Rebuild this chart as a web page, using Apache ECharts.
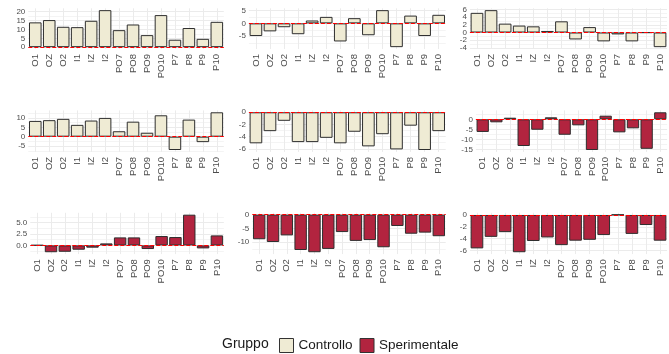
<!DOCTYPE html>
<html>
<head>
<meta charset="utf-8">
<script src="https://cdn.jsdelivr.net/npm/echarts@6/dist/echarts.min.js"></script>
<style>
  html, body { margin: 0; padding: 0; background: #ffffff; }
  #chart { width: 669px; height: 354px; }
</style>
</head>
<body>
<div id="chart"></div>
<script>
// Electrode sites shared by every panel
const categories = ['O1', 'OZ', 'O2', 'I1', 'IZ', 'I2', 'PO7', 'PO8', 'PO9', 'PO10', 'P7', 'P8', 'P9', 'P10'];

// Controllo group panels
const controllo1 = [14.0, 15.3, 11.5, 11.3, 14.9, 20.9, 9.6, 12.8, 6.8, 18.1, 4.2, 10.8, 4.7, 14.3];
const controllo2 = [-4.9, -3.1, -1.5, -4.2, 1.1, 2.5, -7.0, 2.0, -4.6, 5.1, -9.2, 3.0, -4.9, 3.3];
const controllo3 = [5.1, 5.8, 2.3, 1.8, 1.6, 0.4, 2.9, -1.8, 1.4, -2.3, -0.5, -2.3, -0.05, -3.8];
const controllo4 = [8.4, 8.8, 9.5, 6.3, 8.6, 10.0, 2.9, 8.0, 2.1, 11.4, -7.1, 9.1, -2.9, 13.0];
const controllo5 = [-5.1, -3.1, -1.4, -4.9, -4.9, -4.2, -5.1, -3.2, -5.6, -3.6, -6.1, -2.2, -6.2, -3.1];

// Sperimentale group panels
const sperimentale1 = [-6.3, -1.5, 0.8, -13.3, -5.2, 1.0, -7.7, -3.0, -15.3, 1.8, -6.5, -4.5, -14.7, 3.5];
const sperimentale2 = [0.05, -1.5, -1.4, -0.95, -0.5, 0.44, 1.76, 1.76, -0.8, 2.06, 1.84, 6.76, -0.66, 2.2];
const sperimentale3 = [-8.9, -9.9, -7.5, -12.8, -13.6, -12.4, -6.3, -9.5, -9.2, -11.8, -4.1, -6.9, -6.5, -7.8];
const sperimentale4 = [-5.65, -3.7, -2.9, -6.3, -4.4, -3.8, -5.1, -4.35, -4.2, -3.4, 0.05, -3.2, -1.7, -4.35];

// Y tick labels (major) and minor grid positions per panel
const ticks1 = [0, 5, 10, 15, 20];      const minor1 = [2.5, 7.5, 12.5, 17.5];
const ticks2 = [-5, 0, 5];              const minor2 = [-7.5, -2.5, 2.5];
const ticks3 = [-4, -2, 0, 2, 4, 6];    const minor3 = [-3, -1, 1, 3, 5];
const ticks4 = [-5, 0, 5, 10];          const minor4 = [-7.5, -2.5, 2.5, 7.5, 12.5];
const ticks5 = [-6, -4, -2, 0];         const minor5 = [-5, -3, -1];
const ticks6 = [-15, -10, -5, 0];       const minor6 = [-12.5, -7.5, -2.5, 2.5];
const ticks7 = [0, 2.5, 5];             const minor7 = [-1.25, 1.25, 3.75, 6.25];
const ticks8 = [-10, -5, 0];            const minor8 = [-12.5, -7.5, -2.5];
const ticks9 = [-6, -4, -2, 0];         const minor9 = [-5, -3, -1];

const groups = ['Controllo', 'Sperimentale'];
const fills = { Controllo: '#EFEBD4', Sperimentale: '#B2243F' };

const panels = [
  { values: controllo1, group: 'Controllo', ticks: ticks1, minor: minor1, digits: 0 },
  { values: controllo2, group: 'Controllo', ticks: ticks2, minor: minor2, digits: 0 },
  { values: controllo3, group: 'Controllo', ticks: ticks3, minor: minor3, digits: 0 },
  { values: controllo4, group: 'Controllo', ticks: ticks4, minor: minor4, digits: 0 },
  { values: controllo5, group: 'Controllo', ticks: ticks5, minor: minor5, digits: 0 },
  { values: sperimentale1, group: 'Sperimentale', ticks: ticks6, minor: minor6, digits: 0 },
  { values: sperimentale2, group: 'Sperimentale', ticks: ticks7, minor: minor7, digits: 1 },
  { values: sperimentale3, group: 'Sperimentale', ticks: ticks8, minor: minor8, digits: 0 },
  { values: sperimentale4, group: 'Sperimentale', ticks: ticks9, minor: minor9, digits: 0 }
];

// Panel boxes: [left, right] of each plotting area and the row's top/height
const panelBoxes = [
  [26.9, 225.2], [247.5, 447.1], [468.5, 668.5],
  [26.9, 225.2], [247.5, 447.1], [474.5, 668.5],
  [28.9, 225.2], [250.9, 447.1], [468.5, 668.5]
];
const rowBoxes = [[8.3, 40.7], [110.4, 41.5], [212.8, 41.3]];

const FONT = 'Liberation Sans, Arial, sans-serif';
const grids = [], xAxes = [], yAxes = [], series = [];

function yAxisFor(i, yMin, yMax, values, labelled, lineColor, digits) {
  return {
    type: 'value', gridIndex: i, min: yMin, max: yMax,
    axisLine: { show: false },
    axisTick: { show: false, customValues: values },
    axisLabel: {
      show: labelled, customValues: values, fontSize: 8, color: '#4D4D4D', margin: 3, fontFamily: FONT,
      showMinLabel: true, showMaxLabel: true,
      formatter: v => Number(v).toFixed(digits)
    },
    splitLine: { show: true, lineStyle: { color: lineColor, width: 1 } }
  };
}

panels.forEach((p, i) => {
  const [L, R] = panelBoxes[i];
  const [top, height] = rowBoxes[Math.floor(i / 3)];
  // discrete scale: 0.6 band padding on each side, bars fill 0.9 of a band
  const band = (R - L) / 14.2;
  grids.push({ left: L + 0.1 * band, width: 14 * band, top: top, height: height });

  // continuous scale with 5% expansion around data and the zero line
  const lo = Math.min(0, ...p.values);
  const hi = Math.max(0, ...p.values);
  const pad = 0.05 * (hi - lo);
  const yMin = lo - pad, yMax = hi + pad;

  xAxes.push({
    type: 'category', gridIndex: i, data: categories,
    axisLine: { show: false }, axisTick: { show: false },
    axisLabel: { rotate: 90, interval: 0, fontSize: 9.5, color: '#4D4D4D', margin: 5, fontFamily: FONT },
    splitLine: { show: true, alignWithLabel: true, lineStyle: { color: '#EBEBEB', width: 1 } }
  });

  // major breaks alternate between two axes so tightly packed labels all stay visible
  const evenTicks = p.ticks.filter((_, k) => k % 2 === 0);
  const oddTicks = p.ticks.filter((_, k) => k % 2 === 1);
  yAxes.push(yAxisFor(i, yMin, yMax, evenTicks, true, '#EBEBEB', p.digits));
  yAxes.push(yAxisFor(i, yMin, yMax, oddTicks, true, '#EBEBEB', p.digits));
  yAxes.push(yAxisFor(i, yMin, yMax, p.minor, false, '#F4F4F4', p.digits));

  series.push({
    type: 'bar', name: p.group, xAxisIndex: i, yAxisIndex: 3 * i,
    data: p.values, barWidth: '90%',
    itemStyle: { color: fills[p.group], borderColor: '#2E2E2E', borderWidth: 1 },
    markLine: {
      silent: true, symbol: 'none', animation: false,
      label: { show: false },
      lineStyle: { color: '#FF0000', type: [4, 2], width: 1 },
      data: [{ yAxis: 0 }]
    }
  });
});

// second labelled axis sits on the same (left) side as the first
yAxes.forEach(a => { a.position = 'left'; a.offset = 0; });

const chart = echarts.init(document.getElementById('chart'), null, { renderer: 'canvas' });
chart.setOption({
  animation: false,
  backgroundColor: '#FFFFFF',
  title: {
    text: 'Gruppo', left: 222, top: 337, padding: 0,
    textStyle: { fontSize: 14, fontWeight: 'normal', color: '#1A1A1A', fontFamily: FONT }
  },
  legend: {
    data: groups, left: 279, top: 338, padding: 0,
    icon: 'rect', itemWidth: 14, itemHeight: 14, itemGap: 7,
    itemStyle: { borderColor: '#333333', borderWidth: 1 },
    textStyle: { fontSize: 13.5, color: '#1A1A1A', fontFamily: FONT }
  },
  grid: grids,
  xAxis: xAxes,
  yAxis: yAxes,
  series: series
});
</script>
</body>
</html>
